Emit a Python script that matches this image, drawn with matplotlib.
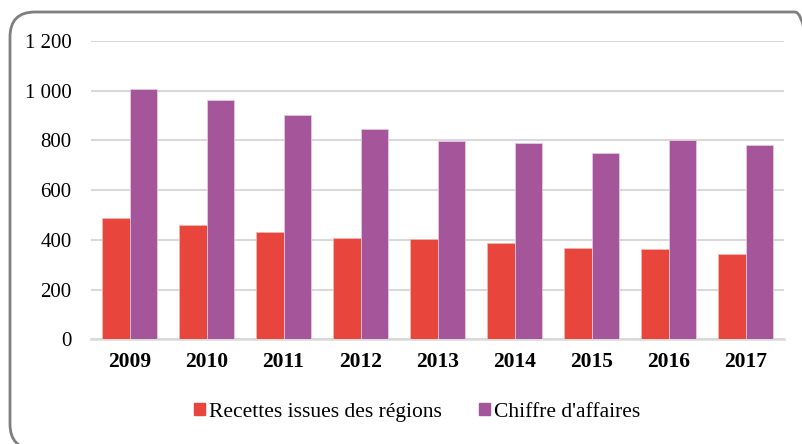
import numpy as np
import matplotlib
matplotlib.use("Agg")
import matplotlib.pyplot as plt
from matplotlib.patches import FancyBboxPatch, Patch

# données
annees = ["2009", "2010", "2011", "2012", "2013", "2014", "2015", "2016", "2017"]
recettes = [487, 460, 431, 408, 405, 388, 367, 362, 343]
chiffre = [1006, 961, 901, 847, 798, 791, 751, 801, 781]
y_ticks = [0, 200, 400, 600, 800, 1000, 1200]
y_labels = ["0", "200", "400", "600", "800", "1 000", "1 200"]

ROUGE = "#E8453C"
VIOLET = "#A5569A"

plt.rcParams['font.family'] = ['Liberation Serif', 'DejaVu Serif']

fig = plt.figure(figsize=(8.02, 4.44), dpi=100)
ax = fig.add_axes([0.1135, 0.2354, 0.8641, 0.6723])

x = np.arange(len(annees))
w = 0.357
ax.bar(x - w/2, recettes, w, color=ROUGE, edgecolor="#f5b5b0", linewidth=0.6, zorder=3)
ax.bar(x + w/2, chiffre, w, color=VIOLET, edgecolor="#e6c8e2", linewidth=0.6, zorder=3)

ax.set_xlim(-0.5, len(annees) - 0.5)
ax.set_ylim(0, 1200)
ax.set_yticks(y_ticks)
ax.set_yticklabels(y_labels, fontsize=15)
ax.set_xticks(x)
ax.set_xticklabels(annees, fontsize=15.5, fontweight="bold")
ax.tick_params(axis="y", length=0, pad=14)
ax.tick_params(axis="x", length=0, pad=9)
ax.grid(axis="y", color="#d9d9d9", linewidth=1.5, zorder=0)
for s in ["top", "right", "left"]:
    ax.spines[s].set_visible(False)
ax.spines["bottom"].set_color("#d9d9d9")
ax.spines["bottom"].set_linewidth(1.8)

handles = [Patch(color=ROUGE, label="Recettes issues des régions"),
           Patch(color=VIOLET, label="Chiffre d'affaires")]
fig.legend(handles=handles, loc="center", bbox_to_anchor=(0.52, 0.072),
           ncol=2, frameon=False, fontsize=15.5, handlelength=0.52,
           handleheight=0.52, handletextpad=0.2, columnspacing=1.7)

# cadre arrondi (bord droit et bas hors image)
cadre = FancyBboxPatch((0.10, -0.05), 8.1, 4.37,
                       boxstyle="round,pad=0,rounding_size=0.25",
                       transform=fig.dpi_scale_trans, fill=False,
                       edgecolor="#7f7f7f", linewidth=2, clip_on=False)
fig.patches.append(cadre)

fig.savefig("out.png", dpi=100)
